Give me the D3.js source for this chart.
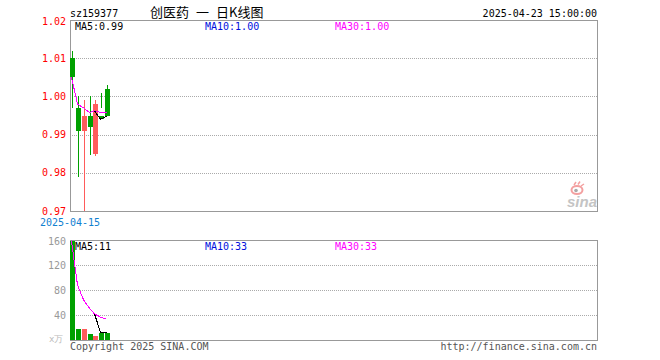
<!DOCTYPE html>
<html>
<head>
<meta charset="utf-8">
<script src="https://cdn.jsdelivr.net/npm/d3@7"></script>
<style>
  body { margin: 0; background: #fff; }
  text { font-family: "DejaVu Sans Mono", "Liberation Mono", monospace; font-size: 10px; }
</style>
</head>
<body>
<svg id="chart" width="660" height="360"></svg>
<script>
// daily K-line data for sz159377
const dates = ["2025-04-15", "2025-04-16", "2025-04-17", "2025-04-18", "2025-04-21", "2025-04-22", "2025-04-23"];
const openP = [1.010, 0.997, 0.991, 0.995, 0.985, 0.995, 1.002];
const closeP = [1.005, 0.991, 0.995, 0.992, 0.998, 0.994, 0.995];
const highP = [1.012, 1.000, 0.999, 1.000, 0.999, 1.001, 1.003];
const lowP = [0.997, 0.979, 0.970, 0.9847, 0.9845, 0.997, 0.995];
const volume = [158, 18, 17, 10, 6, 11, 12]; // x万

const priceTicks = [0.97, 0.98, 0.99, 1.00, 1.01, 1.02];
const volTicks = [40, 80, 120, 160];

const GREEN = "#00a000";
const RED = "#ff5b5b";

const svg = d3.select("#chart");

const left = 70, right = 597;
const main = { top: 20, bottom: 211 };
const vol = { top: 240, bottom: 340 };

// 90 day slots across the chart, only the first few are filled
const xSlot = d3.scaleLinear().domain([0, 90]).range([left, right]);
const candleW = 5;
const xLeft = (i) => Math.round(xSlot(i));

const yPrice = d3.scaleLinear().domain([0.97, 1.02]).range([main.bottom, main.top]);
const yVol = d3.scaleLinear().domain([0, 160]).range([vol.bottom, vol.top]);

// moving averages; MA5 needs a full window, MA10/MA30 use what exists
function movingAvg(values, n, partial) {
  return values.map((v, i) => {
    if (i + 1 < n && !partial) return null;
    const start = Math.max(0, i - n + 1);
    return d3.mean(values.slice(start, i + 1));
  });
}

const isDown = (i) => closeP[i] < openP[i];

// header
svg.append("text").attr("x", left).attr("y", 16.5).text("sz159377");
const cjk = svg.append("text")
  .attr("y", 16.5)
  .style("font-family", "'Noto Sans CJK SC', sans-serif")
  .style("font-size", "13px");
cjk.append("tspan").attr("x", 150).text("创医药");
cjk.append("tspan").attr("x", 196).text("一");
cjk.append("tspan").attr("x", 216).text("日K线图");
svg.append("text").attr("x", right).attr("y", 16.5).attr("text-anchor", "end")
  .text(dates[dates.length - 1] + " 15:00:00");

// grids
function drawPanel(y, ticks, top, bottom, labelColor, fmt) {
  const g = svg.append("g");
  g.selectAll("line.grid")
    .data(ticks.filter((t) => Math.round(y(t)) > top && Math.round(y(t)) < bottom))
    .enter()
    .append("line")
    .attr("x1", left)
    .attr("x2", right)
    .attr("y1", (d) => Math.round(y(d)) + 0.5)
    .attr("y2", (d) => Math.round(y(d)) + 0.5)
    .attr("stroke", "#aaa")
    .attr("stroke-dasharray", "1,1");

  g.selectAll("text")
    .data(ticks)
    .enter()
    .append("text")
    .attr("x", 66)
    .attr("y", (d) => Math.min(Math.max(y(d), top + 1.5), bottom) + 3.5)
    .attr("text-anchor", "end")
    .attr("fill", labelColor)
    .text(fmt);

  g.append("rect")
    .attr("x", left + 0.5)
    .attr("y", top + 0.5)
    .attr("width", right - left)
    .attr("height", bottom - top)
    .attr("fill", "none")
    .attr("stroke", "#999");
}

drawPanel(yPrice, priceTicks, main.top, main.bottom, "#f00", d3.format(".2f"));
drawPanel(yVol, volTicks, vol.top, vol.bottom, "#999", d3.format("d"));

// sina watermark
const logo = svg.append("g");
logo.append("ellipse").attr("cx", 577).attr("cy", 190).attr("rx", 5.5).attr("ry", 4)
  .attr("fill", "none").attr("stroke", "#f3a0a0").attr("stroke-width", 2);
logo.append("circle").attr("cx", 576).attr("cy", 190.5).attr("r", 1.8).attr("fill", "#aaa");
logo.append("path").attr("d", "M574,185 L576,182 M578,184.5 L580,181.5 M581,186 L584,184")
  .attr("stroke", "#f3a0a0").attr("stroke-width", 1.5);
logo.append("text")
  .attr("x", 597).attr("y", 207)
  .attr("text-anchor", "end")
  .style("font-family", "'Liberation Sans', Arial, sans-serif")
  .style("font-size", "15px")
  .style("font-weight", "bold")
  .style("font-style", "italic")
  .attr("fill", "#c4c4c4")
  .text("sina");

// candles
const candles = svg.append("g")
  .selectAll("g")
  .data(dates.map((d, i) => i))
  .enter()
  .append("g")
  .attr("fill", (i) => (isDown(i) ? GREEN : RED))
  .attr("stroke", (i) => (isDown(i) ? GREEN : RED));

candles.append("line")
  .attr("x1", (i) => xLeft(i) + 2.5)
  .attr("x2", (i) => xLeft(i) + 2.5)
  .attr("y1", (i) => Math.round(yPrice(highP[i])))
  .attr("y2", (i) => Math.round(yPrice(lowP[i])))
  .attr("stroke-width", 1);

candles.append("rect")
  .attr("stroke", "none")
  .attr("x", (i) => xLeft(i))
  .attr("width", candleW)
  .attr("y", (i) => Math.round(yPrice(Math.max(openP[i], closeP[i]))))
  .attr("height", (i) => Math.max(1, Math.round(yPrice(Math.min(openP[i], closeP[i]))) - Math.round(yPrice(Math.max(openP[i], closeP[i])))));

// volume bars
svg.append("g")
  .selectAll("rect")
  .data(volume)
  .enter()
  .append("rect")
  .attr("x", (d, i) => xLeft(i))
  .attr("width", candleW)
  .attr("y", (d) => Math.round(yVol(d)))
  .attr("height", (d) => vol.bottom - Math.round(yVol(d)))
  .attr("fill", (d, i) => (isDown(i) ? GREEN : RED));

// MA lines (MA10 sits under MA30 while there is little data)
const maDefs = [
  { n: 10, partial: true, color: "#0010dd" },
  { n: 30, partial: true, color: "#ff00ff" },
  { n: 5, partial: false, color: "#000" },
];

function drawMA(values, y) {
  maDefs.forEach((m) => {
    const ma = movingAvg(values, m.n, m.partial);
    const line = d3.line()
      .defined((d) => d != null)
      .x((d, i) => xLeft(i) + 1.5)
      .y((d) => y(d));
    svg.append("path")
      .datum(ma)
      .attr("d", line)
      .attr("fill", "none")
      .attr("stroke", m.color)
      .attr("stroke-width", 1)
      .attr("shape-rendering", "crispEdges");
  });
}

drawMA(closeP, yPrice);
drawMA(volume, yVol);

// MA legends
const legendX = { 5: 75, 10: 205, 30: 335 };
const legendColor = { 5: "#000", 10: "#0010dd", 30: "#ff00ff" };

function drawLegend(values, yBase, fmt) {
  [5, 10, 30].forEach((n) => {
    const ma = movingAvg(values, n, true);
    svg.append("text")
      .attr("x", legendX[n])
      .attr("y", yBase)
      .attr("fill", legendColor[n])
      .text(`MA${n}:${fmt(ma[ma.length - 1])}`);
  });
}

drawLegend(closeP, 29.5, d3.format(".2f"));
drawLegend(volume, 250, d3.format(".0f"));

// date under the price panel
svg.append("text")
  .attr("x", xLeft(0))
  .attr("y", 226)
  .attr("text-anchor", "middle")
  .attr("fill", "#1080d0")
  .text(dates[0]);

// unit label and footer
svg.append("text")
  .attr("x", 49).attr("y", 342)
  .attr("fill", "#bbb")
  .style("font-size", "9px")
  .text("x万");

svg.append("text")
  .attr("x", left).attr("y", 350)
  .attr("fill", "#555")
  .text("Copyright 2025 SINA.COM");

svg.append("text")
  .attr("x", right).attr("y", 350)
  .attr("text-anchor", "end")
  .attr("fill", "#555")
  .text("http://finance.sina.com.cn");
</script>
</body>
</html>
